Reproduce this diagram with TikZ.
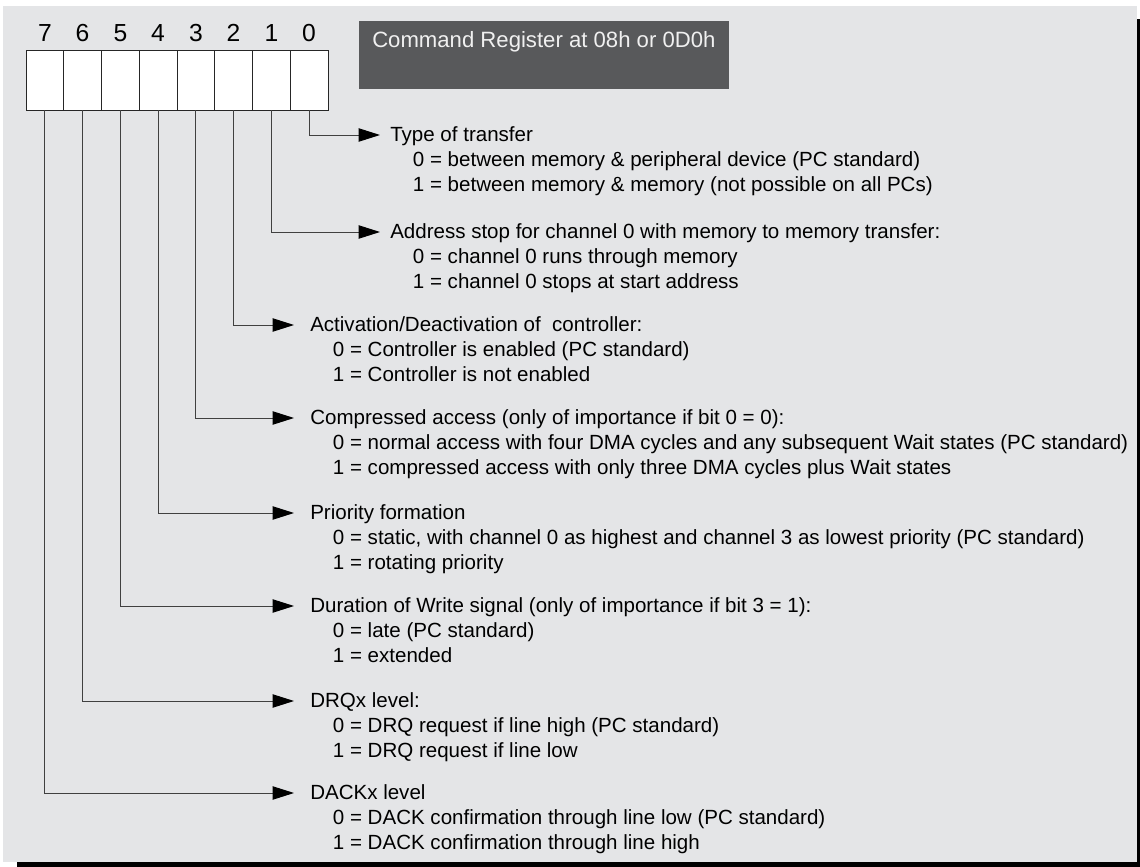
\documentclass[tikz,border=0pt]{standalone}
\usepackage{fontspec}
\setmainfont{Liberation Sans}
\usetikzlibrary{arrows.meta}
\definecolor{panelgray}{RGB}{228,229,231}
\definecolor{titlegray}{RGB}{88,89,91}
\newcommand{\valindent}{\hspace*{17pt}}
\tikzset{
  bitcell/.style={draw=black!85, line width=0.6pt, fill=white, minimum width=28.3pt, minimum height=45pt, inner sep=0pt},
  bitnum/.style={anchor=base, inner sep=0pt, font=\fontsize{18.5}{22}\selectfont},
  bitline/.style={line width=0.7pt, black!75, -{Triangle[length=16pt,width=10pt,color=black]}},
  bitdesc/.style={anchor=base west, align=left, inner sep=0pt, font=\fontsize{15.4}{18.4}\selectfont},
}

\begin{document}
\begin{tikzpicture}[x=0.75pt,y=-0.75pt]
\useasboundingbox (0,0) rectangle (1140,867);
\fill[black] (17,862) rectangle (1140,867);
\fill[black] (1137,19) rectangle (1140,867);
\fill[panelgray] (3,6) rectangle (1137,862);
% title
\node[fill=titlegray, anchor=north west, minimum width=277.5pt, minimum height=51pt, inner sep=0pt] (titlebox) at (359,21) {};
\node[anchor=base west, inner sep=0pt, text=white!94!black, font=\fontsize{16.6}{19}\selectfont] (titletext) at (372,48) {Command Register at 08h or 0D0h};
% register
\node[bitcell] (bit7) at (44.9,80) {};
\node[bitcell] (bit6) at (82.6,80) {};
\node[bitcell] (bit5) at (120.4,80) {};
\node[bitcell] (bit4) at (158.1,80) {};
\node[bitcell] (bit3) at (195.9,80) {};
\node[bitcell] (bit2) at (233.6,80) {};
\node[bitcell] (bit1) at (271.4,80) {};
\node[bitcell] (bit0) at (309.1,80) {};
\node[bitnum] (num7) at (44.9,41.5) {7};
\node[bitnum] (num6) at (82.6,41.5) {6};
\node[bitnum] (num5) at (120.4,41.5) {5};
\node[bitnum] (num4) at (158.1,41.5) {4};
\node[bitnum] (num3) at (195.9,41.5) {3};
\node[bitnum] (num2) at (233.6,41.5) {2};
\node[bitnum] (num1) at (271.4,41.5) {1};
\node[bitnum] (num0) at (309.1,41.5) {0};
% arrow ends
\coordinate (tip0) at (380,135);
\coordinate (tip1) at (380,232);
\coordinate (tip2) at (294,325);
\coordinate (tip3) at (294,418);
\coordinate (tip4) at (294,513);
\coordinate (tip5) at (294,606);
\coordinate (tip6) at (294,701);
\coordinate (tip7) at (294,793);
\draw[bitline] (bit0.south) |- (tip0);
\draw[bitline] (bit1.south) |- (tip1);
\draw[bitline] (bit2.south) |- (tip2);
\draw[bitline] (bit3.south) |- (tip3);
\draw[bitline] (bit4.south) |- (tip4);
\draw[bitline] (bit5.south) |- (tip5);
\draw[bitline] (bit6.south) |- (tip6);
\draw[bitline] (bit7.south) |- (tip7);
% descriptions (base = last line)
\node[bitdesc] (desc0) at (390,191) {Type of transfer\\
  \valindent 0 = between memory \& peripheral device (PC standard)\\
  \valindent 1 = between memory \& memory (not possible on all PCs)};
\node[bitdesc] (desc1) at (390,288) {Address stop for channel 0 with memory to memory transfer:\\
  \valindent 0 = channel 0 runs through memory\\
  \valindent 1 = channel 0 stops at start address};
\node[bitdesc] (desc2) at (310,381) {Activation/Deactivation of\ \ controller:\\
  \valindent 0 = Controller is enabled (PC standard)\\
  \valindent 1 = Controller is not enabled};
\node[bitdesc] (desc3) at (310,474) {Compressed access (only of importance if bit 0 = 0):\\
  \valindent 0 = normal access with four DMA cycles and any subsequent Wait states (PC standard)\\
  \valindent 1 = compressed access with only three DMA cycles plus Wait states};
\node[bitdesc] (desc4) at (310,569) {Priority formation\\
  \valindent 0 = static, with channel 0 as highest and channel 3 as lowest priority (PC standard)\\
  \valindent 1 = rotating priority};
\node[bitdesc] (desc5) at (310,662) {Duration of Write signal (only of importance if bit 3 = 1):\\
  \valindent 0 = late (PC standard)\\
  \valindent 1 = extended};
\node[bitdesc] (desc6) at (310,757) {DRQx level:\\
  \valindent 0 = DRQ request if line high (PC standard)\\
  \valindent 1 = DRQ request if line low};
\node[bitdesc] (desc7) at (310,849) {DACKx level\\
  \valindent 0 = DACK confirmation through line low (PC standard)\\
  \valindent 1 = DACK confirmation through line high};
\end{tikzpicture}
\end{document}
